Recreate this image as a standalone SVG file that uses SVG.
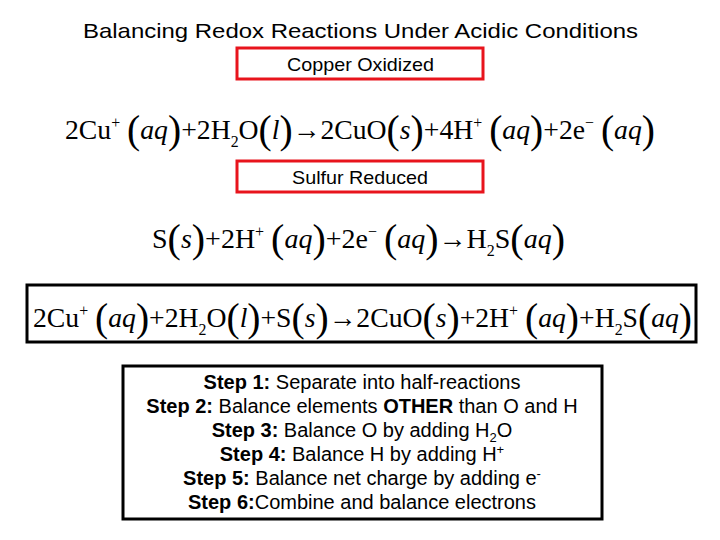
<svg xmlns="http://www.w3.org/2000/svg" width="720" height="540" viewBox="0 0 720 540">
<style>
.t{font-family:"Liberation Sans",Arial,sans-serif;fill:#000}
.eq{font-family:"Liberation Serif","DejaVu Serif",serif;font-size:28px;fill:#000}
.p{font-size:40px;font-weight:100}
.i{font-style:italic}
.s{font-size:16px}
.rb{fill:none;stroke:#e8141c;stroke-width:3}
.bb{fill:none;stroke:#000;stroke-width:3}
</style>
<rect width="720" height="540" fill="#fff"/>
<text class="t" x="83" y="38" font-size="21" textLength="555" lengthAdjust="spacingAndGlyphs">Balancing Redox Reactions Under Acidic Conditions</text>
<g id="copper">
<rect class="rb" x="237" y="48" width="246" height="31"/>
<text class="t" x="287" y="71" font-size="19" textLength="147" lengthAdjust="spacingAndGlyphs">Copper Oxidized</text>
</g>
<g id="eq1">
<text class="eq" x="65" y="139" textLength="590" lengthAdjust="spacingAndGlyphs">2Cu<tspan class="s" dy="-11">+</tspan><tspan dy="11"> </tspan><tspan class="p" dy="4">(</tspan><tspan class="i" dy="-4">aq</tspan><tspan class="p" dy="4">)</tspan><tspan dy="-4">+2H</tspan><tspan class="s" dy="8">2</tspan><tspan dy="-8">O</tspan><tspan class="p" dy="4">(</tspan><tspan class="i" dy="-4">l</tspan><tspan class="p" dy="4">)</tspan><tspan dy="-4">→2CuO</tspan><tspan class="p" dy="4">(</tspan><tspan class="i" dy="-4">s</tspan><tspan class="p" dy="4">)</tspan><tspan dy="-4">+4H</tspan><tspan class="s" dy="-11">+</tspan><tspan dy="11"> </tspan><tspan class="p" dy="4">(</tspan><tspan class="i" dy="-4">aq</tspan><tspan class="p" dy="4">)</tspan><tspan dy="-4">+2e</tspan><tspan class="s" dy="-11">−</tspan><tspan dy="11"> </tspan><tspan class="p" dy="4">(</tspan><tspan class="i" dy="-4">aq</tspan><tspan class="p" dy="4">)</tspan></text>
</g>
<g id="sulfur">
<rect class="rb" x="237" y="161" width="246" height="31"/>
<text class="t" x="292" y="184" font-size="19" textLength="136" lengthAdjust="spacingAndGlyphs">Sulfur Reduced</text>
</g>
<g id="eq2">
<text class="eq" x="152" y="248" textLength="413" lengthAdjust="spacingAndGlyphs">S<tspan class="p" dy="4">(</tspan><tspan class="i" dy="-4">s</tspan><tspan class="p" dy="4">)</tspan><tspan dy="-4">+2H</tspan><tspan class="s" dy="-11">+</tspan><tspan dy="11"> </tspan><tspan class="p" dy="4">(</tspan><tspan class="i" dy="-4">aq</tspan><tspan class="p" dy="4">)</tspan><tspan dy="-4">+2e</tspan><tspan class="s" dy="-11">−</tspan><tspan dy="11"> </tspan><tspan class="p" dy="4">(</tspan><tspan class="i" dy="-4">aq</tspan><tspan class="p" dy="4">)</tspan><tspan dy="-4">→H</tspan><tspan class="s" dy="8">2</tspan><tspan dy="-8">S</tspan><tspan class="p" dy="4">(</tspan><tspan class="i" dy="-4">aq</tspan><tspan class="p" dy="4">)</tspan></text>
</g>
<g id="overall">
<rect class="bb" x="27" y="285" width="669" height="57"/>
<text class="eq" x="33" y="327" textLength="659" lengthAdjust="spacingAndGlyphs">2Cu<tspan class="s" dy="-11">+</tspan><tspan dy="11"> </tspan><tspan class="p" dy="4">(</tspan><tspan class="i" dy="-4">aq</tspan><tspan class="p" dy="4">)</tspan><tspan dy="-4">+2H</tspan><tspan class="s" dy="8">2</tspan><tspan dy="-8">O</tspan><tspan class="p" dy="4">(</tspan><tspan class="i" dy="-4">l</tspan><tspan class="p" dy="4">)</tspan><tspan dy="-4">+S</tspan><tspan class="p" dy="4">(</tspan><tspan class="i" dy="-4">s</tspan><tspan class="p" dy="4">)</tspan><tspan dy="-4">→2CuO</tspan><tspan class="p" dy="4">(</tspan><tspan class="i" dy="-4">s</tspan><tspan class="p" dy="4">)</tspan><tspan dy="-4">+2H</tspan><tspan class="s" dy="-11">+</tspan><tspan dy="11"> </tspan><tspan class="p" dy="4">(</tspan><tspan class="i" dy="-4">aq</tspan><tspan class="p" dy="4">)</tspan><tspan dy="-4">+H</tspan><tspan class="s" dy="8">2</tspan><tspan dy="-8">S</tspan><tspan class="p" dy="4">(</tspan><tspan class="i" dy="-4">aq</tspan><tspan class="p" dy="4">)</tspan></text>
</g>
<g id="steps">
<rect class="bb" x="123" y="366" width="479" height="153"/>
<g class="t" font-size="20" text-anchor="middle">
<text x="362" y="389"><tspan font-weight="bold">Step 1:</tspan> Separate into half-reactions</text>
<text x="362" y="413"><tspan font-weight="bold">Step 2:</tspan> Balance elements <tspan font-weight="bold">OTHER</tspan> than O and H</text>
<text x="362" y="437"><tspan font-weight="bold">Step 3:</tspan> Balance O by adding H<tspan font-size="13" dy="5">2</tspan><tspan dy="-5">O</tspan></text>
<text x="362" y="461"><tspan font-weight="bold">Step 4:</tspan> Balance H by adding H<tspan font-size="13" dy="-7">+</tspan></text>
<text x="362" y="485"><tspan font-weight="bold">Step 5:</tspan> Balance net charge by adding e<tspan font-size="13" dy="-7">-</tspan></text>
<text x="362" y="509"><tspan font-weight="bold">Step 6:</tspan>Combine and balance electrons</text>
</g>
</g>
</svg>
